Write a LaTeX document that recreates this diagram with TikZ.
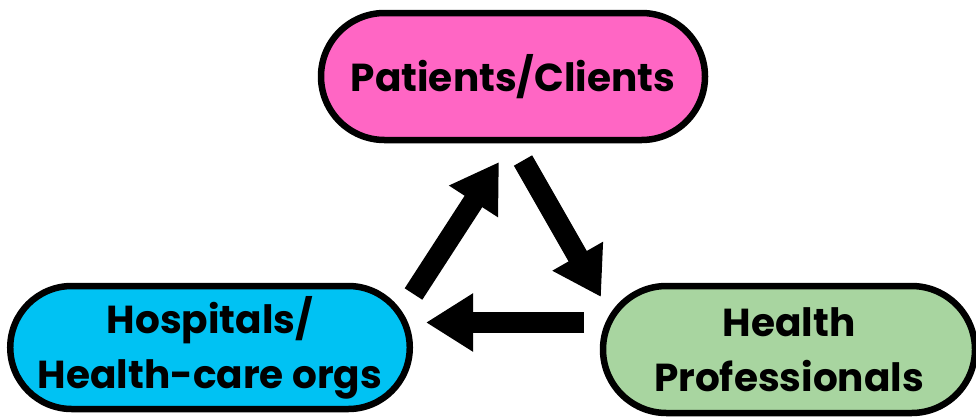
\documentclass[tikz,border=0pt]{standalone}
\usepackage{fontspec}
\setmainfont{Poppins}
\usepackage{tikz}
\usetikzlibrary{shapes.misc, arrows.meta, positioning}
\definecolor{patColor}{HTML}{FF66C4}
\definecolor{hospColor}{HTML}{00C2F3}
\definecolor{profColor}{HTML}{A8D5A0}
\tikzstyle{pill} = [rounded rectangle,
draw=black, line width=6.5pt,
align=center, inner sep=0pt,
font=\bfseries\fontsize{39}{55}\selectfont]
\tikzstyle{bigarrow} = [line width=21pt, -{Triangle[length=47pt, width=55pt]}]

\begin{document}
\begin{tikzpicture}[
    x=1pt, y=-1pt,
    patients/.style={pill, fill=patColor, minimum width=384pt, minimum height=127pt},
    hospitals/.style={pill, fill=hospColor, minimum width=394pt, minimum height=123pt},
    professionals/.style={pill, fill=profColor, minimum width=372pt, minimum height=127pt}
]
\useasboundingbox (0,0) rectangle (976,416);

% Top
\node[patients] (pat) at (513,76.5) {Patients/Clients};

% Bottom row
\node[hospitals] (hosp) at (210,347.5) {Hospitals/\\Health-care orgs};
\node[professionals] (prof) at (789,349.5) {Health\\Professionals};

% Arrow ends
\coordinate (hp-s) at (413.5,294);
\coordinate (hp-e) at (499,162);
\coordinate (pp-s) at (523,160.5);
\coordinate (pp-e) at (601,297);
\coordinate (ph-s) at (584,322.5);
\coordinate (ph-e) at (426,322.5);

% Draw arrows
\draw[bigarrow] (hp-s) -- (hp-e);
\draw[bigarrow] (pp-s) -- (pp-e);
\draw[bigarrow] (ph-s) -- (ph-e);
\end{tikzpicture}
\end{document}
